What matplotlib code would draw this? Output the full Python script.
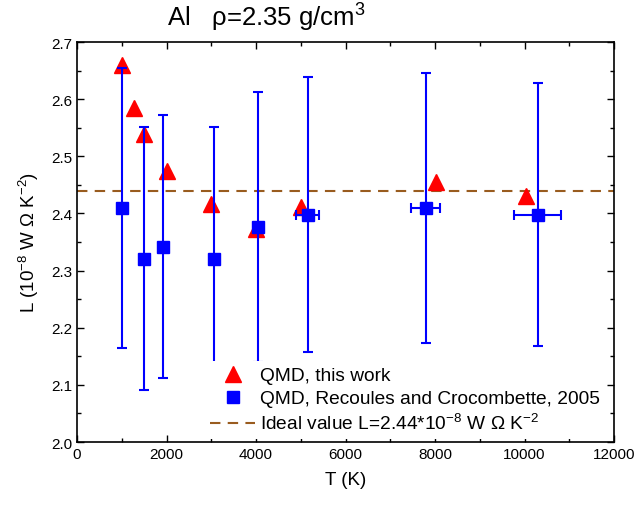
import numpy as np
import matplotlib.pyplot as plt
from matplotlib.ticker import MultipleLocator
from matplotlib.lines import Line2D

plt.rcParams['font.family'] = ['Liberation Sans', 'DejaVu Sans']
plt.rcParams['mathtext.fontset'] = 'custom'
plt.rcParams['mathtext.rm'] = 'Liberation Sans'
plt.rcParams['mathtext.it'] = 'Liberation Sans'

# QMD, this work
t_qmd = [1000, 1280, 1500, 2000, 3000, 4000, 5000, 8030, 10030]
l_qmd = [2.660, 2.585, 2.539, 2.475, 2.416, 2.373, 2.412, 2.455, 2.431]

# QMD, Recoules and Crocombette, 2005
t_rc = [1010, 1500, 1930, 3050, 4050, 5150, 7790, 10290]
l_rc = [2.409, 2.321, 2.342, 2.321, 2.376, 2.398, 2.409, 2.398]
l_rc_err = [0.245, 0.230, 0.230, 0.230, 0.236, 0.240, 0.236, 0.230]
t_rc_err = [0, 0, 0, 0, 0, 250, 320, 520]

l_ideal = 2.44

fig = plt.figure(figsize=(6.37, 5.06), dpi=100)
ax = fig.add_axes([0.121, 0.1245, 0.843, 0.7905])

h1, = ax.plot(t_qmd, l_qmd, linestyle='none', marker='^', color='red',
              markersize=11, zorder=3)
ax.errorbar(t_rc, l_rc, yerr=l_rc_err, xerr=t_rc_err, fmt='s', color='blue',
            markersize=8, elinewidth=1.5, capsize=3.5, capthick=1.5, zorder=4)
h3 = ax.axhline(l_ideal, color='#995c1f', linestyle=(0, (5, 3.5)), linewidth=1.5,
                zorder=2)
h2 = Line2D([], [], linestyle='none', marker='s', color='blue', markersize=8)

ax.set_xlim(0, 12000)
ax.set_ylim(2.0, 2.7)
ax.xaxis.set_major_locator(MultipleLocator(2000))
ax.xaxis.set_minor_locator(MultipleLocator(1000))
ax.yaxis.set_major_locator(MultipleLocator(0.1))
ax.yaxis.set_minor_locator(MultipleLocator(0.05))
ax.yaxis.set_major_formatter(plt.FormatStrFormatter('%.1f'))
ax.tick_params(which='both', direction='in', top=True, right=True, labelsize=11)
ax.tick_params(which='major', length=5, width=1)
ax.tick_params(which='minor', length=3, width=1)
for s in ax.spines.values():
    s.set_linewidth(1.2)

ax.set_xlabel('T (K)', fontsize=13.5, labelpad=7)
ax.set_ylabel('L (10$^{-8}$ W $\\Omega$ K$^{-2}$)', fontsize=13.5, labelpad=7)

leg = ax.legend([h1, h2, h3],
                ['QMD, this work', 'QMD, Recoules and Crocombette, 2005',
                 'Ideal value L=2.44*10$^{-8}$ W $\\Omega$ K$^{-2}$'],
                loc='lower left', bbox_to_anchor=(0.237, 0.0075), borderaxespad=0,
                fontsize=13.8, frameon=True, framealpha=1, edgecolor='none',
                fancybox=False, handlelength=2.35, handletextpad=0.26,
                labelspacing=0.3, borderpad=0.3)
leg.set_zorder(5)

fig.text(0.418, 0.964, 'Al   \u03c1=2.35 g/cm$^3$', fontsize=18.5, ha='center', va='center')

fig.savefig('out.png', dpi=100)
